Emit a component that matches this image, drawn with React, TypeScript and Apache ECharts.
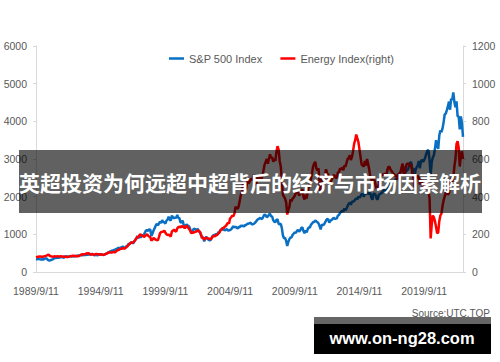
import React, { useEffect, useRef } from "react";
import * as echarts from "echarts";

// Monthly points from 1989/9 to 2022/9
const startYear = 1989;
const startMonth = 9;
const monthCount = 397;
const months: string[] = [];
for (let i = 0; i < monthCount; i++) {
  const t = startMonth - 1 + i;
  months.push(`${startYear + Math.floor(t / 12)}/${(t % 12) + 1}/11`);
}

const legendNames = ["S&P 500 Index", "Energy Index(right)"];

// S&P 500 Index (left axis)
const sp500: number[] = [
  349, 340, 346, 353,
  329, 332, 340, 331, 361, 358, 356, 323, 306, 304, 322, 330,
  344, 367, 375, 375, 390, 371, 388, 395, 388, 392, 375, 417,
  409, 413, 404, 415, 415, 408, 424, 414, 418, 419, 431, 436,
  439, 443, 452, 440, 450, 451, 448, 464, 459, 468, 462, 466,
  482, 467, 446, 451, 457, 444, 458, 475, 463, 472, 454, 459,
  470, 487, 501, 515, 533, 545, 562, 562, 584, 582, 605, 616,
  636, 640, 646, 654, 669, 671, 640, 652, 687, 705, 757, 741,
  786, 791, 757, 801, 848, 885, 954, 899, 947, 915, 955, 970,
  980, 1049, 1102, 1112, 1091, 1134, 1121, 957, 1017, 1099, 1164, 1229,
  1280, 1238, 1286, 1335, 1302, 1373, 1329, 1320, 1283, 1363, 1389, 1469,
  1394, 1366, 1499, 1452, 1421, 1455, 1431, 1518, 1437, 1429, 1315, 1320,
  1366, 1240, 1160, 1249, 1256, 1224, 1211, 1134, 1041, 1060, 1139, 1148,
  1130, 1107, 1147, 1076, 1067, 990, 912, 916, 815, 886, 936, 880,
  856, 841, 848, 917, 964, 975, 990, 1008, 996, 1051, 1058, 1112,
  1131, 1145, 1126, 1107, 1121, 1141, 1102, 1104, 1115, 1130, 1174, 1212,
  1181, 1204, 1181, 1157, 1192, 1191, 1234, 1220, 1229, 1207, 1249, 1248,
  1280, 1281, 1295, 1311, 1270, 1270, 1277, 1304, 1336, 1378, 1401, 1418,
  1438, 1407, 1421, 1482, 1531, 1503, 1455, 1474, 1527, 1549, 1481, 1468,
  1379, 1331, 1323, 1386, 1400, 1280, 1267, 1283, 1166, 969, 896, 903,
  826, 690, 798, 873, 919, 919, 987, 1021, 1057, 1036, 1096, 1115,
  1074, 1104, 1169, 1187, 1089, 1031, 1102, 1049, 1141, 1183, 1181, 1258,
  1286, 1327, 1326, 1364, 1345, 1321, 1292, 1219, 1131, 1253, 1247, 1258,
  1312, 1366, 1408, 1398, 1310, 1362, 1379, 1407, 1441, 1412, 1416, 1426,
  1498, 1515, 1569, 1598, 1631, 1606, 1686, 1633, 1682, 1757, 1806, 1848,
  1783, 1859, 1872, 1884, 1924, 1960, 1931, 2003, 1972, 2018, 2068, 2059,
  1995, 2105, 2068, 2086, 2107, 2063, 2104, 1972, 1920, 2079, 2080, 2044,
  1940, 1932, 2060, 2065, 2097, 2099, 2174, 2171, 2168, 2126, 2199, 2239,
  2279, 2364, 2363, 2384, 2412, 2423, 2470, 2472, 2519, 2575, 2648, 2674,
  2824, 2714, 2641, 2648, 2705, 2718, 2816, 2902, 2914, 2712, 2760, 2507,
  2704, 2784, 2834, 2946, 2752, 2942, 2980, 2926, 2977, 3038, 3141, 3231,
  3226, 2954, 2585, 2912, 3044, 3100, 3271, 3500, 3363, 3270, 3622, 3756,
  3714, 3811, 3973, 4181, 4204, 4298, 4395, 4523, 4308, 4605, 4567, 4766,
  4516, 4374, 4530, 4132, 4132, 3785, 4130, 3955, 3586,
];

// Energy Index (right axis)
const energy: number[] = [
  78, 80, 81, 82,
  83, 80, 81, 82, 84, 85, 88, 92, 90, 85, 83, 82,
  80, 84, 83, 82, 84, 82, 83, 84, 82, 83, 80, 82,
  80, 81, 80, 82, 85, 84, 86, 85, 86, 84, 83, 83,
  86, 89, 92, 94, 93, 95, 96, 99, 98, 100, 94, 92,
  95, 93, 92, 94, 96, 95, 94, 93, 92, 94, 91, 92,
  94, 96, 99, 103, 104, 103, 104, 105, 107, 104, 108, 113,
  116, 118, 122, 125, 124, 126, 124, 128, 133, 138, 145, 150,
  157, 154, 158, 162, 170, 178, 187, 184, 196, 200, 194, 192,
  186, 190, 196, 200, 192, 188, 185, 166, 172, 180, 176, 172,
  170, 168, 185, 205, 212, 213, 215, 220, 208, 200, 196, 198,
  195, 188, 215, 220, 225, 218, 214, 232, 238, 240, 236, 245,
  240, 242, 232, 242, 246, 236, 228, 220, 206, 210, 208, 212,
  214, 216, 222, 218, 212, 198, 180, 184, 172, 178, 182, 180,
  178, 176, 174, 180, 188, 192, 190, 195, 196, 205, 208, 220,
  224, 235, 232, 240, 244, 252, 262, 258, 285, 290, 300, 296,
  310, 345, 342, 335, 350, 380, 410, 430, 470, 430, 440, 445,
  490, 470, 478, 495, 490, 492, 515, 480, 460, 490, 510, 505,
  495, 490, 510, 540, 570, 585, 600, 575, 600, 625, 605, 610,
  585, 600, 590, 640, 668, 650, 590, 560, 490, 410, 400, 390,
  370, 305, 330, 345, 385, 375, 390, 395, 405, 420, 430, 425,
  405, 415, 430, 440, 400, 385, 410, 390, 430, 450, 470, 495,
  525, 560, 575, 585, 550, 540, 550, 470, 420, 490, 500, 505,
  515, 545, 520, 520, 460, 470, 490, 500, 515, 510, 500, 500,
  530, 530, 550, 545, 555, 540, 565, 560, 580, 600, 605, 620,
  595, 610, 640, 680, 700, 730, 710, 690, 650, 610, 570, 565,
  560, 590, 565, 600, 575, 545, 505, 495, 470, 500, 485, 460,
  440, 445, 470, 500, 510, 520, 515, 520, 520, 515, 545, 560,
  555, 540, 535, 525, 520, 510, 515, 490, 520, 525, 530, 555,
  575, 520, 525, 560, 575, 575, 575, 560, 570, 520, 500, 450,
  495, 505, 510, 500, 465, 490, 475, 445, 455, 450, 455, 470,
  430, 390, 178, 250, 300, 290, 270, 240, 205, 210, 270, 300,
  310, 350, 380, 400, 420, 430, 410, 420, 460, 500, 480, 500,
  560, 600, 680, 695, 660, 560, 620, 640, 600,
];

const bannerTitle = "英超投资为何远超中超背后的经济与市场因素解析";
const sourceText = "Source:UTC.TOP";
const siteText = "www.on-ng28.com";

export default function App() {
  const ref = useRef<HTMLDivElement>(null);
  useEffect(() => {
    if (!ref.current) return;
    const chart = echarts.init(ref.current, null, { renderer: "svg" });
    const axisText = {
      color: "#595959",
      fontSize: 10.5,
      fontFamily: "Liberation Sans",
      formatter: (v: any) => String(v),
    };
    const axisLine = { show: true, lineStyle: { color: "#d9d9d9", width: 1 } };
    chart.setOption({
      animation: false,
      backgroundColor: "#ffffff",
      grid: { left: 36, right: 37, top: 46, bottom: 90, containLabel: false },
      legend: {
        data: legendNames,
        left: 164,
        top: 48,
        icon: "rect",
        itemWidth: 15,
        itemHeight: 2.5,
        itemGap: 18,
        textStyle: { color: "#595959", fontSize: 11, fontFamily: "Liberation Sans" },
      },
      xAxis: {
        type: "category",
        data: months,
        boundaryGap: false,
        axisLine,
        axisTick: { show: false },
        axisLabel: { ...axisText, interval: 59, margin: 13 },
        splitLine: { show: false },
      },
      yAxis: [
        {
          type: "value",
          min: 0,
          max: 6000,
          interval: 1000,
          axisLine,
          axisTick: { show: true, length: 3, lineStyle: { color: "#d9d9d9" } },
          axisLabel: { ...axisText, margin: 9 },
          splitLine: { show: false },
        },
        {
          type: "value",
          min: 0,
          max: 1200,
          interval: 200,
          position: "right",
          axisLine,
          axisTick: { show: true, length: 3, lineStyle: { color: "#d9d9d9" } },
          axisLabel: { ...axisText, margin: 9 },
          splitLine: { show: false },
        },
      ],
      series: [
        {
          name: legendNames[0],
          type: "line",
          data: sp500,
          yAxisIndex: 0,
          symbol: "none",
          lineStyle: { color: "#0a70c4", width: 2.5 },
          itemStyle: { color: "#0a70c4" },
        },
        {
          name: legendNames[1],
          type: "line",
          data: energy,
          yAxisIndex: 1,
          symbol: "none",
          lineStyle: { color: "#ff0000", width: 2.5 },
          itemStyle: { color: "#ff0000" },
        },
      ],
      graphic: [
        {
          type: "rect",
          shape: { x: 19, y: 150, width: 463, height: 63 },
          style: { fill: "rgba(0,0,0,0.62)" },
          z: 100,
        },
        {
          type: "text",
          x: 250,
          y: 182,
          style: {
            text: bannerTitle,
            fill: "#ffffff",
            font: "bold 21px 'Noto Sans CJK SC'",
            textAlign: "center",
            textVerticalAlign: "middle",
          },
          z: 101,
        },
        {
          type: "text",
          x: 490,
          y: 313,
          style: {
            text: sourceText,
            fill: "#595959",
            font: "10px 'Liberation Sans'",
            textAlign: "right",
            textVerticalAlign: "middle",
          },
          z: 101,
        },
        {
          type: "rect",
          shape: { x: 314, y: 317, width: 177, height: 7 },
          style: { fill: "#666666" },
          z: 100,
        },
        {
          type: "rect",
          shape: { x: 314, y: 324, width: 177, height: 30 },
          style: { fill: "#000000" },
          z: 100,
        },
        {
          type: "text",
          x: 402,
          y: 338,
          style: {
            text: siteText,
            fill: "#ffffff",
            font: "bold 16.5px 'Liberation Sans'",
            textAlign: "center",
            textVerticalAlign: "middle",
          },
          z: 101,
        },
      ],
    });
    return () => chart.dispose();
  }, []);
  return (
    <div
      ref={ref}
      style={{ position: "fixed", left: 0, top: 0, width: 500, height: 362, background: "#fff" }}
    />
  );
}
